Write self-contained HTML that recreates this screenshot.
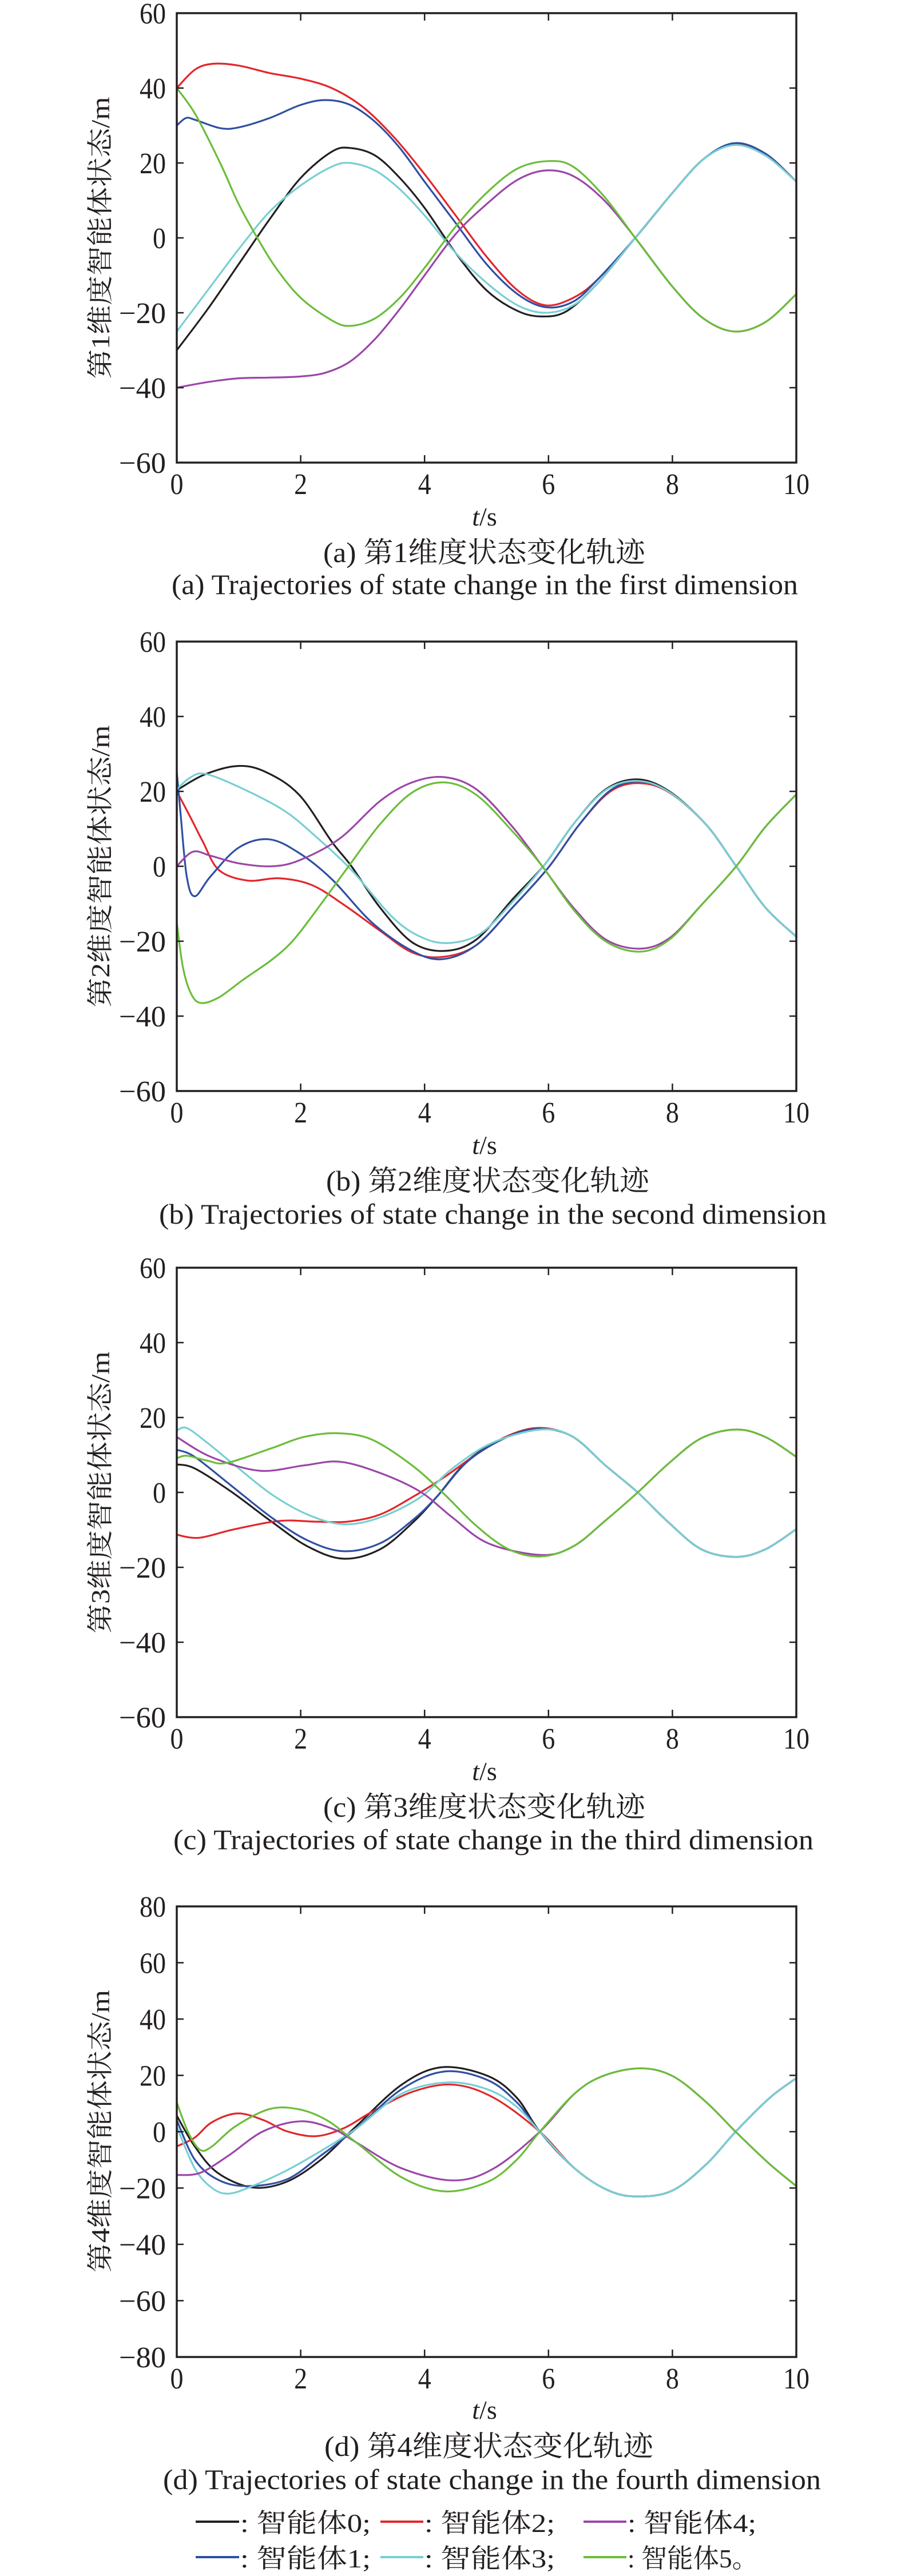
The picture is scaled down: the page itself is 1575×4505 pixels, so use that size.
<!DOCTYPE html>
<html><head><meta charset="utf-8">
<style>
html,body{margin:0;padding:0;background:#fff;}
svg{display:block;}
text{font-family:"Liberation Serif","Noto Serif CJK SC","Noto Sans CJK SC",serif;fill:#231f20;}
</style></head>
<body>
<svg id="s" width="1575" height="4505" viewBox="0 0 1575 4505" xmlns="http://www.w3.org/2000/svg">
<rect width="1575" height="4505" fill="#fff"/>
<g id="g"></g>
<text x="175" y="416" font-size="46" text-anchor="middle" textLength="493" lengthAdjust="spacingAndGlyphs" transform="rotate(-90 175 416)" dy="16">第1维度智能体状态/m</text>
<text x="847" y="919" font-size="46" text-anchor="middle"><tspan font-style="italic">t</tspan>/s</text>
<text x="565" y="983" font-size="50" textLength="563" lengthAdjust="spacingAndGlyphs">(a) 第1维度状态变化轨迹</text>
<text x="300" y="1039" font-size="50" textLength="1095" lengthAdjust="spacingAndGlyphs">(a) Trajectories of state change in the first dimension</text>
<text x="175" y="1515" font-size="46" text-anchor="middle" textLength="493" lengthAdjust="spacingAndGlyphs" transform="rotate(-90 175 1515)" dy="16">第2维度智能体状态/m</text>
<text x="847" y="2018" font-size="46" text-anchor="middle"><tspan font-style="italic">t</tspan>/s</text>
<text x="570" y="2082" font-size="50" textLength="565" lengthAdjust="spacingAndGlyphs">(b) 第2维度状态变化轨迹</text>
<text x="278" y="2140" font-size="50" textLength="1167" lengthAdjust="spacingAndGlyphs">(b) Trajectories of state change in the second dimension</text>
<text x="175" y="2610" font-size="46" text-anchor="middle" textLength="493" lengthAdjust="spacingAndGlyphs" transform="rotate(-90 175 2610)" dy="16">第3维度智能体状态/m</text>
<text x="847" y="3113" font-size="46" text-anchor="middle"><tspan font-style="italic">t</tspan>/s</text>
<text x="565" y="3177" font-size="50" textLength="563" lengthAdjust="spacingAndGlyphs">(c) 第3维度状态变化轨迹</text>
<text x="303" y="3234" font-size="50" textLength="1119" lengthAdjust="spacingAndGlyphs">(c) Trajectories of state change in the third dimension</text>
<text x="175" y="3727" font-size="46" text-anchor="middle" textLength="494" lengthAdjust="spacingAndGlyphs" transform="rotate(-90 175 3727)" dy="16">第4维度智能体状态/m</text>
<text x="847" y="4230" font-size="46" text-anchor="middle"><tspan font-style="italic">t</tspan>/s</text>
<text x="567" y="4295" font-size="50" textLength="575" lengthAdjust="spacingAndGlyphs">(d) 第4维度状态变化轨迹</text>
<text x="285" y="4353" font-size="50" textLength="1150" lengthAdjust="spacingAndGlyphs">(d) Trajectories of state change in the fourth dimension</text>
<g stroke-width="4">
<line x1="342" y1="4410" x2="418" y2="4410" stroke="#231f20"/>
<line x1="665" y1="4410" x2="740" y2="4410" stroke="#e3262b"/>
<line x1="1020" y1="4410" x2="1095" y2="4410" stroke="#9b46a8"/>
<line x1="342" y1="4472" x2="418" y2="4472" stroke="#2f4fa3"/>
<line x1="665" y1="4472" x2="740" y2="4472" stroke="#77cfd3"/>
<line x1="1020" y1="4472" x2="1095" y2="4472" stroke="#6bbd3a"/>
</g>
<g font-size="46">
<text x="420" y="4428" textLength="228" lengthAdjust="spacingAndGlyphs">: 智能体0;</text>
<text x="742" y="4428" textLength="228" lengthAdjust="spacingAndGlyphs">: 智能体2;</text>
<text x="1097" y="4428" textLength="225" lengthAdjust="spacingAndGlyphs">: 智能体4;</text>
<text x="420" y="4490" textLength="228" lengthAdjust="spacingAndGlyphs">: 智能体1;</text>
<text x="742" y="4490" textLength="228" lengthAdjust="spacingAndGlyphs">: 智能体3;</text>
<text x="1097" y="4490" textLength="228" lengthAdjust="spacingAndGlyphs">: 智能体5。</text>
</g>
</svg>
<script>
(function(){
var NS="http://www.w3.org/2000/svg";
var g=document.getElementById("g");
var X0=309,X1=1392;
function el(n,a,p,txt){var e=document.createElementNS(NS,n);for(var k in a)e.setAttribute(k,a[k]);if(txt!==undefined)e.textContent=txt;(p||g).appendChild(e);return e;}
var C={k:"#231f20",r:"#e3262b",b:"#2f4fa3",c:"#77cfd3",p:"#9b46a8",g:"#6bbd3a"};
function plot(T,H,vmax,ticks,series){
  var vmin=-vmax;
  function px(t){return X0+t*(X1-X0)/10;}
  function py(v){return T+(vmax-v)*H/(vmax-vmin);}
  var order=["k","r","b","c","p","g"];
  for(var oi=0;oi<order.length;oi++){
    var key=order[oi];var pts=series[key];if(!pts)continue;
    var P=pts.map(function(q){return [px(q[0]),py(q[1])];});
    var d="M"+P[0][0].toFixed(1)+","+P[0][1].toFixed(1);
    for(var i=0;i<P.length-1;i++){
      var p0=P[i>0?i-1:0],p1=P[i],p2=P[i+1],p3=P[i+2<P.length?i+2:i+1];
      var c1=[p1[0]+(p2[0]-p0[0])/6,p1[1]+(p2[1]-p0[1])/6];
      var c2=[p2[0]-(p3[0]-p1[0])/6,p2[1]-(p3[1]-p1[1])/6];
      d+=" C"+c1[0].toFixed(1)+","+c1[1].toFixed(1)+" "+c2[0].toFixed(1)+","+c2[1].toFixed(1)+" "+p2[0].toFixed(1)+","+p2[1].toFixed(1);
    }
    el("path",{d:d,fill:"none",stroke:C[key],"stroke-width":3.2,"stroke-linejoin":"round"});
  }
  var B=T+H;
  el("rect",{x:X0,y:T,width:X1-X0,height:H,fill:"none",stroke:"#231f20","stroke-width":3.5});
  for(var t=2;t<10;t+=2){var x=px(t);
    el("line",{x1:x,y1:T,x2:x,y2:T+13,stroke:"#231f20","stroke-width":2.5});
    el("line",{x1:x,y1:B,x2:x,y2:B-13,stroke:"#231f20","stroke-width":2.5});}
  for(var t=0;t<=10;t+=2){var s=""+t;
    el("text",{x:px(t),y:B+55,"font-size":52,"text-anchor":"middle",textLength:s.length==2?46:23,lengthAdjust:"spacingAndGlyphs"},null,s);}
  for(var i=0;i<ticks.length;i++){var v=ticks[i];var y=py(v);
    if(v!=vmax&&v!=vmin){
      el("line",{x1:X0,y1:y,x2:X0+12,y2:y,stroke:"#231f20","stroke-width":2.5});
      el("line",{x1:X1,y1:y,x2:X1-12,y2:y,stroke:"#231f20","stroke-width":2.5});}
    var s=v<0?"\u2212"+(-v):""+v;
    var w=v<0?82:(v==0?23:46);
    el("text",{x:290-w,y:y+18,"font-size":52,textLength:w,lengthAdjust:"spacingAndGlyphs"},null,s);
  }
}
plot(23,786,60,[60,40,20,0,-20,-40,-60],{
k:[[0,-30],[0.5,-19],[1,-7],[1.5,5],[2,16],[2.5,23],[2.8,24],[3.2,22],[3.6,16],[4,8],[4.5,-4],[5,-14],[5.5,-19.5],[5.9,-21],[6.3,-19.5],[6.8,-12],[7.4,0],[8,12],[8.5,21],[9,25],[9.5,22.5],[10,15]],
c:[[0,-25],[0.5,-14],[1,-3],[1.5,7],[2,14],[2.5,19],[2.8,20],[3.2,18],[3.6,13],[4,6],[4.5,-4],[5,-12],[5.5,-18],[5.95,-20],[6.4,-18],[6.8,-12],[7.4,0],[8,12],[8.5,21],[9,24.8],[9.5,22],[10,15]],
r:[[0,40],[0.3,45],[0.6,46.5],[1,46],[1.5,44],[2,42.5],[2.5,40],[3,35],[3.5,27],[4,17],[4.5,6],[5,-5],[5.5,-14],[5.95,-18],[6.4,-16],[6.8,-11],[7.4,0],[8,12],[8.5,21],[9,25],[9.5,22.5],[10,15]],
b:[[0,30],[0.15,32],[0.3,31.5],[0.7,29.3],[1,29.5],[1.5,32],[2,35.5],[2.4,36.8],[2.8,35.5],[3.2,31],[3.6,24],[4,15],[4.5,4],[5,-7],[5.5,-15],[5.95,-18.5],[6.4,-17],[6.8,-11],[7.4,0],[8,12],[8.5,21],[9,25.3],[9.5,22.5],[10,15]],
g:[[0,40],[0.3,33],[0.7,20],[1,9],[1.3,0],[1.6,-8],[2,-16],[2.5,-22],[2.8,-23.5],[3.2,-21.5],[3.6,-16],[4,-8],[4.5,3],[5,12],[5.5,18.5],[6,20.5],[6.4,19],[6.9,11],[7.4,0],[8,-13],[8.5,-21.5],[9,-25],[9.5,-22.5],[10,-15]],
p:[[0,-40],[0.5,-38.5],[1,-37.5],[1.5,-37.3],[2,-37],[2.4,-36],[2.8,-33],[3.2,-27],[3.6,-19],[4,-10],[4.5,1],[5,9],[5.5,15.5],[5.95,18],[6.4,16.5],[6.9,10],[7.4,0],[8,-13],[8.5,-21.5],[9,-25],[9.5,-22.5],[10,-15]]
});
var pTail=[[5.9,0],[6.4,-11],[6.92,-19.5],[7.47,-22],[7.95,-19.2],[8.47,-10.3],[9.03,0],[9.5,10.5],[10,19.2]];
plot(1122,786,60,[60,40,20,0,-20,-40,-60],{
k:[[0,20.3],[0.45,24.5],[1.0,26.8],[1.46,25],[1.98,19],[2.5,6.6],[2.82,0],[3.28,-11],[3.8,-20.3],[4.32,-22.6],[4.84,-19.5],[5.42,-8.8],[5.94,0.5],[6.4,11.2],[6.92,20.5],[7.44,23.2],[7.95,20],[8.54,11.2],[9.03,0],[9.5,-11],[10,-18.8]],
c:[[0,20.5],[0.2,23.5],[0.45,24.7],[1.0,21.2],[1.72,15],[2.24,8],[2.82,-1],[3.47,-13.4],[3.93,-18.8],[4.38,-20.5],[4.9,-18],[5.42,-9.5],[5.94,0.5],[6.4,11.2],[6.92,20.3],[7.44,22.8],[7.95,19.8],[8.54,11.2],[9.03,0],[9.5,-11],[10,-18.8]],
r:[[0,20],[0.23,12.8],[0.42,6.6],[0.68,-1],[1.14,-3.8],[1.66,-3.2],[2.18,-5],[2.7,-10.3],[3.28,-17.2],[3.8,-23],[4.29,-24.2],[4.84,-21],[5.42,-11],[6.0,-0.3],[6.5,11.2],[7.0,20],[7.47,22.2],[7.95,19.7],[8.54,11.2],[9.03,0],[9.5,-11],[10,-18.8]],
b:[[0,25.2],[0.06,14.3],[0.16,-2.6],[0.29,-8],[0.55,-2.6],[1.0,5],[1.49,7.2],[1.98,3.5],[2.5,-3.4],[3.15,-15],[3.8,-22.6],[4.29,-24.8],[4.84,-21],[5.42,-11],[6.0,-0.3],[6.5,11.2],[7.0,20.3],[7.47,22.6],[7.95,19.8],[8.54,11.2],[9.03,0],[9.5,-11],[10,-18.8]],
p:[[0,0],[0.26,3.9],[0.55,2.8],[1.0,0.8],[1.53,0],[1.98,1.6],[2.63,7.4],[3.28,17.4],[3.8,22.4],[4.32,23.8],[4.84,20.5],[5.42,10.5]].concat(pTail),
g:[[0,-15],[0.1,-27],[0.23,-34],[0.39,-36.5],[0.68,-35],[1.07,-30.3],[1.53,-25],[1.85,-20.3],[2.18,-13.4],[2.76,-0.3],[3.28,11.2],[3.8,19.7],[4.32,22.4],[4.84,19],[5.42,9.3],[5.9,0],[6.4,-11.5],[6.92,-20],[7.47,-22.8],[7.95,-19.6],[8.47,-10.3],[9.03,0],[9.5,10.5],[10,19.2]]
});
var kTailC=[[6.4,14.8],[6.92,7.2],[7.44,0],[7.95,-8.2],[8.47,-15.2],[9.03,-17.2],[9.5,-15.2],[10,-9.8]];
var pTailC=[[6.4,-14.4],[6.92,-7.5],[7.44,0],[7.95,7.9],[8.47,14.5],[9.03,16.8],[9.5,14.8],[10,9.5]];
plot(2217,786,60,[60,40,20,0,-20,-40,-60],{
k:[[0,7.5],[0.29,6.4],[0.88,0.2],[1.53,-7.8],[2.11,-14.4],[2.69,-17.7],[3.28,-15.2],[3.8,-8.2],[4.19,-1.3],[4.71,8.7],[5.36,15.2],[5.88,17.2]].concat(kTailC),
b:[[0,11.4],[0.29,9.5],[0.88,1.8],[1.53,-6.7],[2.11,-12.8],[2.69,-15.7],[3.28,-13.6],[3.8,-7.5],[4.19,-1.3],[4.71,8.5],[5.36,15],[5.88,17]].concat(kTailC),
c:[[0,16.5],[0.16,17.2],[0.49,13.3],[0.94,7.2],[1.53,-0.5],[2.11,-5.9],[2.69,-8.5],[3.28,-6.7],[3.93,-1.3],[4.45,6.4],[5.1,13.3],[5.88,16.8]].concat(kTailC),
r:[[0,-11.3],[0.36,-12.1],[0.94,-9.8],[1.66,-7.6],[2.24,-7.8],[2.76,-7.8],[3.28,-5.9],[3.8,-1.3],[4.32,4.1],[4.84,10.2],[5.36,15.2],[5.88,17.2]].concat(kTailC),
p:[[0,14.8],[0.55,9.5],[1.33,5.8],[2.05,7.2],[2.63,8.2],[3.28,5.2],[3.93,0.2],[4.45,-6.7],[5.03,-13.6],[5.88,-16.7]].concat(pTailC),
g:[[0,9.1],[0.16,9.8],[0.49,8.5],[0.81,7.9],[1.53,11.8],[2.05,14.8],[2.6,15.8],[3.15,14.1],[3.8,7.2],[4.32,-0.5],[4.84,-9],[5.36,-15.2],[5.88,-17.1]].concat(pTailC)
});
var kTailD=[[6.42,-13],[6.97,-20.9],[7.44,-23],[8.0,-20.9],[8.55,-11.5],[9.02,0],[9.57,12],[10,19]];
var pTailD=[[6.42,13.5],[6.88,19.8],[7.48,22.5],[8.0,19.8],[8.55,10.4],[9.02,0],[9.57,-11.5],[10,-19.3]];
plot(3334,788,80,[80,60,40,20,0,-20,-40,-60,-80],{
k:[[0,5.7],[0.29,-5.2],[0.66,-14.6],[1.22,-19.8],[1.77,-17.8],[2.33,-9.9],[2.89,1.8],[3.63,16.7],[4.28,22.9],[5.02,19.8],[5.49,12],[5.86,0]].concat(kTailD),
b:[[0,4.1],[0.29,-9.9],[0.66,-17],[1.12,-19.3],[1.77,-17],[2.33,-8.4],[2.89,1],[3.63,15.1],[4.33,21.4],[5.02,18.3],[5.49,10.4],[5.86,0]].concat(kTailD),
c:[[0,1.8],[0.29,-13],[0.57,-20],[0.84,-22],[1.22,-19.3],[1.77,-13.8],[2.33,-6.8],[2.89,1],[3.63,13.5],[4.37,17.5],[5.02,15],[5.49,8.8],[5.86,0]].concat(kTailD),
r:[[0,-5.2],[0.29,-2.1],[0.57,3.4],[0.98,6.5],[1.4,4.1],[1.77,0.2],[2.24,-1.6],[2.7,1.3],[3.17,7.3],[3.82,14.3],[4.47,16.7],[5.12,12],[5.86,0]].concat(kTailD),
p:[[0,-15.4],[0.38,-14.6],[0.84,-8.4],[1.4,0.2],[2.0,3.7],[2.52,1],[2.89,-3.7],[3.63,-13],[4.47,-17.3],[5.12,-13],[5.86,0]].concat(pTailD),
g:[[0,10.4],[0.19,-0.5],[0.38,-6.5],[0.57,-5.2],[0.94,1.8],[1.49,8],[1.96,8],[2.42,4.1],[2.89,-3.7],[3.63,-16.2],[4.33,-21.2],[5.02,-17.8],[5.49,-9.9],[5.86,0]].concat(pTailD)
});
})();
</script>
</body></html>
